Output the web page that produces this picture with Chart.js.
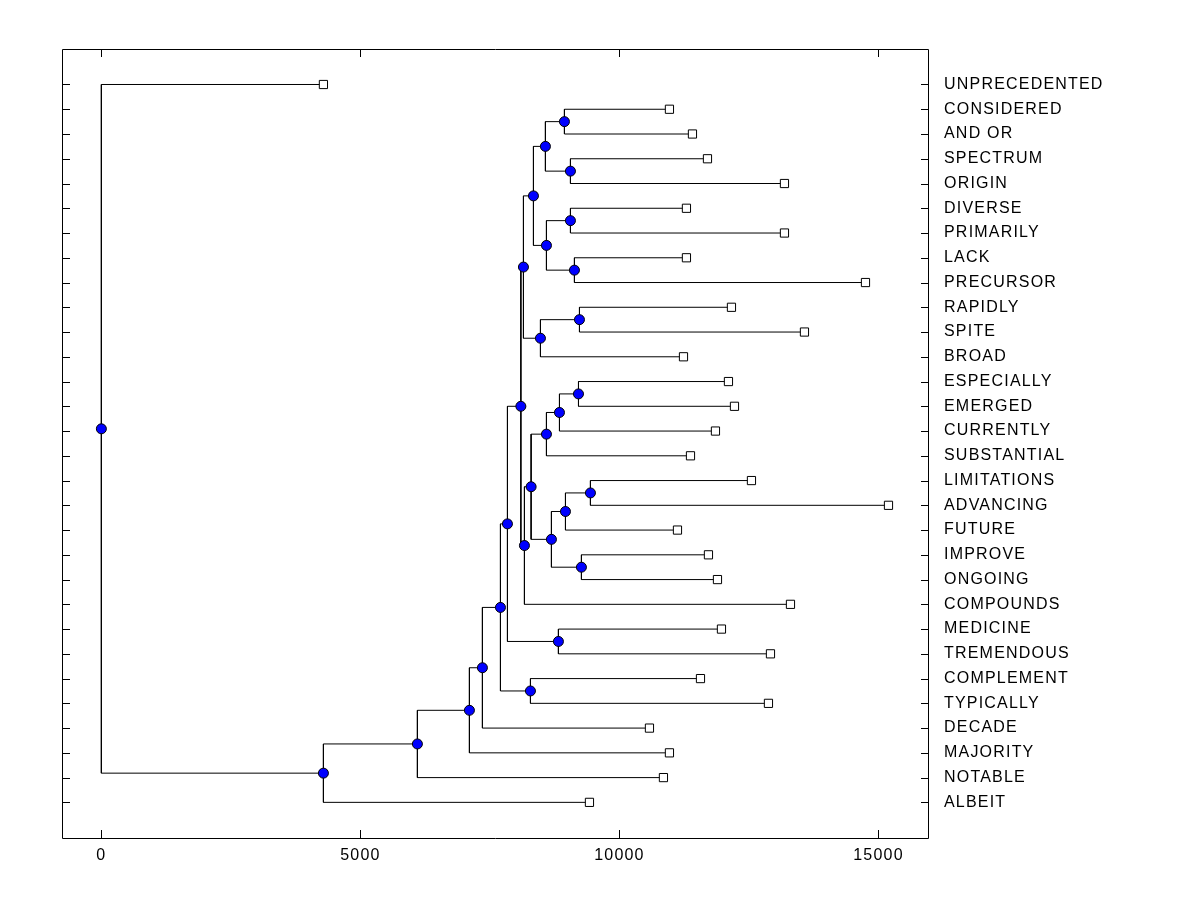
<!DOCTYPE html>
<html>
<head>
<meta charset="utf-8">
<title>Dendrogram</title>
<script src="https://cdn.jsdelivr.net/npm/chart.js@4.4.1/dist/chart.umd.min.js"></script>
<style>
  html, body { margin: 0; padding: 0; background: #fff; }
  #wrap { width: 1200px; height: 900px; }
</style>
</head>
<body>
<div id="wrap"><canvas id="c" width="1200" height="900"></canvas></div>
<script>
// leaves, top to bottom, with the distance at which each one sits
const leaves = [
    "UNPRECEDENTED", "CONSIDERED", "AND OR", "SPECTRUM", "ORIGIN", "DIVERSE",
    "PRIMARILY", "LACK", "PRECURSOR", "RAPIDLY", "SPITE", "BROAD",
    "ESPECIALLY", "EMERGED", "CURRENTLY", "SUBSTANTIAL", "LIMITATIONS", "ADVANCING",
    "FUTURE", "IMPROVE", "ONGOING", "COMPOUNDS", "MEDICINE", "TREMENDOUS",
    "COMPLEMENT", "TYPICALLY", "DECADE", "MAJORITY", "NOTABLE", "ALBEIT"
];
const leafValues = [
    4286, 10965, 11409, 11699, 13185, 11293,
    13185, 11293, 14749, 12162, 13571, 11236,
    12104, 12220, 11853, 11371, 12548, 15193,
    11120, 11718, 11892, 13301, 11969, 12915,
    11564, 12876, 10579, 10965, 10849, 9421
];

// merges: a string is a leaf, a number is an earlier merge
const mergeLeft = [
    "CONSIDERED", "SPECTRUM", 0, "DIVERSE", "LACK", 3, 2, "RAPIDLY", 7, 6,
    "ESPECIALLY", 10, 11, "LIMITATIONS", 13, "IMPROVE", 14, 12, 17, 9,
    "MEDICINE", 19, "COMPLEMENT", 21, 23, 24, 25, 26, "UNPRECEDENTED"
];
const mergeRight = [
    "AND OR", "ORIGIN", 1, "PRIMARILY", "PRECURSOR", 4, 5, "SPITE", "BROAD", 8,
    "EMERGED", "CURRENTLY", "SUBSTANTIAL", "ADVANCING", "FUTURE", "ONGOING", 15, 16, "COMPOUNDS", 18,
    "TREMENDOUS", 20, "TYPICALLY", 22, "DECADE", "MAJORITY", "NOTABLE", "ALBEIT", 27
];
const mergeHeight = [
    8938, 9054, 8571, 9054, 9131, 8591, 8340, 9228, 8475, 8147,
    9209, 8842, 8591, 9440, 8958, 9266, 8687, 8295, 8166, 8097,
    8822, 7838, 8282, 7703, 7355, 7104, 6100, 4286, 0
];

const xTicks = [0, 5000, 10000, 15000];

function nodePos(ref) {
    if (typeof ref === "string") {
        const i = leaves.indexOf(ref);
        return { x: leafValues[i], y: i + 1 };
    }
    const a = nodePos(mergeLeft[ref]);
    const b = nodePos(mergeRight[ref]);
    return { x: mergeHeight[ref], y: (a.y + b.y) / 2 };
}

const branches = [];
const nodes = [];
mergeHeight.forEach((h, k) => {
    const a = nodePos(mergeLeft[k]);
    const b = nodePos(mergeRight[k]);
    branches.push({ x: a.x, y: a.y }, { x: h, y: a.y }, { x: h, y: b.y }, { x: b.x, y: b.y }, { x: null, y: null });
    nodes.push(nodePos(k));
});
const leafPoints = leaves.map((name, i) => ({ x: leafValues[i], y: i + 1 }));

const frame = {
    id: "frame",
    beforeDraw(chart) {
        chart.ctx.letterSpacing = "1.2px";
    },
    afterDraw(chart) {
        const { ctx, chartArea: a, scales } = chart;
        ctx.save();
        ctx.strokeStyle = "#000";
        ctx.lineWidth = 1;
        ctx.beginPath();
        ctx.rect(a.left + 0.5, a.top + 0.5, a.right - a.left - 1, a.bottom - a.top);
        xTicks.forEach(v => {
            const px = Math.round(scales.x.getPixelForValue(v)) + 0.5;
            ctx.moveTo(px, a.bottom); ctx.lineTo(px, a.bottom - 8);
            ctx.moveTo(px, a.top); ctx.lineTo(px, a.top + 8);
        });
        leaves.forEach((n, i) => {
            const py = Math.round(scales.y.getPixelForValue(i + 1)) + 0.5;
            ctx.moveTo(a.left, py); ctx.lineTo(a.left + 8, py);
            ctx.moveTo(a.right, py); ctx.lineTo(a.right - 8, py);
        });
        ctx.stroke();
        ctx.restore();
    }
};

new Chart(document.getElementById("c"), {
    type: "scatter",
    data: {
        datasets: [
            {
                data: branches,
                showLine: true,
                spanGaps: false,
                borderColor: "#000",
                borderWidth: 1,
                pointRadius: 0,
                order: 3
            },
            {
                data: leafPoints,
                pointStyle: "rect",
                pointRadius: 5.8,
                backgroundColor: "#fff",
                borderColor: "#000",
                borderWidth: 1,
                order: 2
            },
            {
                data: nodes,
                pointStyle: "circle",
                pointRadius: 5,
                backgroundColor: "#0000ff",
                borderColor: "#000",
                borderWidth: 1,
                order: 1
            }
        ]
    },
    options: {
        responsive: false,
        devicePixelRatio: 1,
        animation: false,
        events: [],
        layout: { padding: { left: 62, top: 49, right: 0, bottom: 0 } },
        plugins: {
            legend: { display: false },
            tooltip: { enabled: false }
        },
        scales: {
            x: {
                type: "linear",
                position: "bottom",
                min: -760,
                max: 15975,
                afterBuildTicks: s => { s.ticks = xTicks.map(v => ({ value: v })); },
                afterFit: s => { s.height = 62; },
                grid: { display: false, drawTicks: false },
                border: { display: false },
                ticks: {
                    padding: 8,
                    color: "#000",
                    font: { family: "'Liberation Sans', Arial, sans-serif", size: 16 },
                    callback: v => String(v)
                }
            },
            y: {
                type: "linear",
                position: "right",
                reverse: true,
                min: -0.434,
                max: 31.44,
                afterBuildTicks: s => { s.ticks = leaves.map((n, i) => ({ value: i + 1 })); },
                afterFit: s => { s.width = 271; },
                grid: { display: false, drawTicks: false },
                border: { display: false },
                ticks: {
                    padding: 15,
                    color: "#000",
                    font: { family: "'Liberation Sans', Arial, sans-serif", size: 16 },
                    callback: v => leaves[v - 1]
                }
            }
        }
    },
    plugins: [frame]
});
</script>
</body>
</html>
